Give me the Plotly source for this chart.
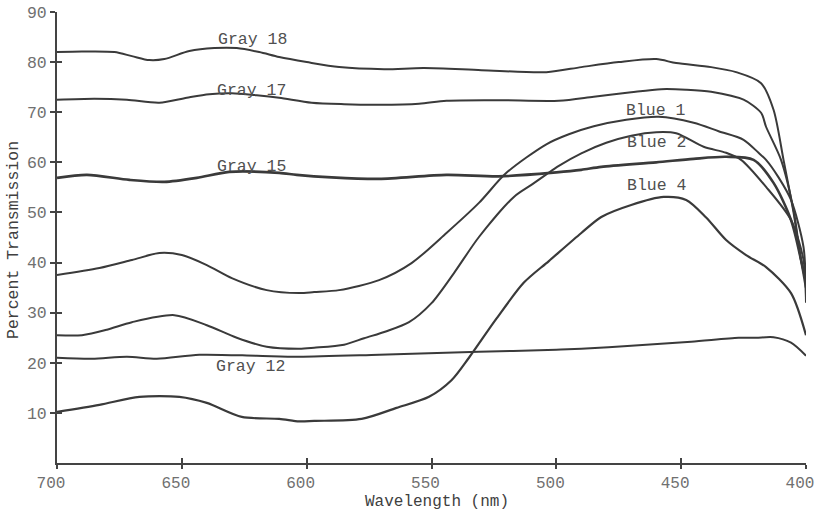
import plotly.graph_objects as go

# ---- data (wavelength nm, percent transmission) ----
gray18_w = [700, 690, 677, 670, 663, 657, 647, 637, 628, 619, 611, 600, 587, 569, 553, 530, 504, 490, 475, 460, 452, 438, 428, 418, 413, 409, 405, 402, 400]
gray18_v = [82.0, 82.1, 82.0, 81.2, 80.4, 80.6, 82.2, 82.8, 82.8, 82.0, 81.0, 80.0, 79.0, 78.6, 78.8, 78.4, 78.0, 79.0, 80.0, 80.6, 79.8, 79.0, 78.0, 75.8, 70.5, 60.5, 50.0, 40.5, 37.0]

gray17_w = [700, 685, 672, 659, 648, 639, 630, 620, 611, 598, 585, 571, 555, 544, 523, 499, 485, 470, 458, 448, 438, 425, 418, 416, 410, 405, 402, 400]
gray17_v = [72.5, 72.7, 72.5, 71.9, 72.9, 73.6, 73.8, 73.4, 72.9, 71.9, 71.6, 71.5, 71.7, 72.3, 72.4, 72.3, 73.1, 74.0, 74.6, 74.5, 74.1, 72.5, 69.9, 67.1, 60.5, 50.5, 40.5, 36.0]

gray15_w = [700, 688, 671, 657, 644, 631, 611, 604, 590, 571, 544, 523, 500, 490, 482, 460, 445, 432, 421, 413, 406, 402, 400]
gray15_v = [56.9, 57.5, 56.5, 56.1, 56.9, 58.1, 57.9, 57.5, 57.0, 56.7, 57.5, 57.2, 58.0, 58.5, 59.1, 60.0, 60.7, 61.1, 60.5, 55.9, 48.5, 40.5, 35.0]

gray12_w = [700, 686, 672, 660, 643, 620, 603, 571, 531, 500, 490, 470, 446, 427, 420, 413, 406, 400]
gray12_v = [21.0, 20.8, 21.2, 20.8, 21.6, 21.4, 21.2, 21.6, 22.2, 22.6, 22.8, 23.4, 24.2, 25.0, 25.0, 25.1, 24.0, 21.4]

blue1_w = [700, 683, 670, 659, 650, 640, 630, 616, 603, 597, 587, 571, 558, 544, 531, 520, 504, 495, 485, 472, 459, 445, 435, 425, 419, 416, 411, 406, 401, 400]
blue1_v = [37.5, 38.9, 40.5, 41.9, 41.5, 39.5, 36.9, 34.5, 33.9, 34.1, 34.5, 36.5, 39.9, 45.9, 51.9, 57.9, 63.6, 65.6, 67.2, 68.5, 69.1, 67.9, 66.2, 64.5, 61.9, 60.5, 57.0, 52.5, 43.1, 33.0]

blue2_w = [700, 690, 680, 670, 653, 640, 628, 616, 603, 597, 585, 577, 568, 559, 550, 541, 531, 517, 510, 504, 499, 490, 480, 470, 460, 452, 441, 432, 426, 416, 406, 401, 400]
blue2_v = [25.5, 25.5, 26.6, 28.1, 29.5, 27.5, 25.0, 23.2, 22.8, 23.0, 23.6, 24.9, 26.3, 28.1, 31.9, 37.9, 45.1, 53.1, 55.5, 57.6, 59.3, 61.8, 63.9, 65.3, 66.0, 65.8, 63.1, 61.9, 60.5, 55.1, 48.5, 40.5, 32.0]

blue4_w = [700, 683, 667, 651, 640, 626, 611, 603, 597, 578, 564, 551, 542, 535, 524, 513, 503, 490, 482, 470, 457, 448, 440, 432, 424, 416, 406, 400]
blue4_v = [10.2, 11.6, 13.2, 13.2, 12.0, 9.2, 8.8, 8.3, 8.4, 8.8, 11.0, 13.2, 16.5, 21.0, 28.8, 36.0, 40.3, 45.9, 49.1, 51.5, 53.1, 52.5, 49.0, 44.5, 41.5, 39.1, 33.9, 25.5]

series = [
    ("Gray 18", gray18_w, gray18_v, 2.0),
    ("Gray 17", gray17_w, gray17_v, 2.0),
    ("Gray 15", gray15_w, gray15_v, 2.6),
    ("Gray 12", gray12_w, gray12_v, 2.0),
    ("Blue 1", blue1_w, blue1_v, 2.0),
    ("Blue 2", blue2_w, blue2_v, 2.0),
    ("Blue 4", blue4_w, blue4_v, 2.2),
]

# label positions (wavelength, percent)
label_text = ["Gray 18", "Gray 17", "Gray 15", "Gray 12", "Blue 1", "Blue 2", "Blue 4"]
label_w = [621.5, 622, 622, 622.3, 460, 459.7, 459.7]
label_v = [84.6, 74.3, 59.1, 19.2, 70.3, 63.9, 55.3]

x_ticks = [700, 650, 600, 550, 500, 450, 400]
y_ticks = [10, 20, 30, 40, 50, 60, 70, 80, 90]

LINE = "#3a3a3a"
MONO = "Liberation Mono, Courier New, monospace"

fig = go.Figure()
for name, w, v, lw in series:
    fig.add_trace(go.Scatter(x=w, y=v, mode="lines", name=name,
                             line=dict(color=LINE, width=lw, shape="spline", smoothing=0.8),
                             showlegend=False, hoverinfo="skip"))

# empty trace on overlay axes (inside half of crossing tick marks)
fig.add_trace(go.Scatter(x=[], y=[], xaxis="x2", yaxis="y2", showlegend=False))

for t, w, v in zip(label_text, label_w, label_v):
    fig.add_annotation(x=w, y=v, text=t, showarrow=False,
                       font=dict(family=MONO, size=16.5, color="#505050"))

fig.add_annotation(xref="paper", yref="paper", x=(437 - 57) / 749, y=(463 - 502) / 451,
                   xanchor="center", yanchor="middle",
                   text="Wavelength (nm)", showarrow=False,
                   font=dict(family=MONO, size=16, color="#404040"))
fig.add_annotation(xref="paper", yref="paper", x=(13 - 57) / 749, y=(463 - 240) / 451,
                   xanchor="center", yanchor="middle",
                   text="Percent Transmission", showarrow=False, textangle=-90,
                   font=dict(family=MONO, size=16.5, color="#404040"))

axis_common = dict(showgrid=False, zeroline=False, automargin=False)
fig.update_layout(
    width=818, height=515,
    margin=dict(l=57, r=12, t=12, b=52, autoexpand=False),
    paper_bgcolor="white", plot_bgcolor="white",
    xaxis=dict(range=[700, 400], tickvals=x_ticks, ticks="outside", ticklen=4, tickwidth=2,
               tickcolor="#444", showline=True, linecolor="#444", linewidth=2,
               ticklabeloverflow="allow", ticklabelshift=6,
               tickfont=dict(family=MONO, size=16, color="#707070"), **axis_common),
    yaxis=dict(range=[0, 90], tickvals=y_ticks, ticks="outside", ticklen=5, tickwidth=2,
               tickcolor="#444", showline=True, linecolor="#444", linewidth=2,
               ticklabeloverflow="allow",
               tickfont=dict(family=MONO, size=16.5, color="#707070"), **axis_common),
    xaxis2=dict(range=[700, 400], tickvals=x_ticks, overlaying="x", anchor="y2", side="bottom",
                ticks="inside", ticklen=5, tickwidth=2, tickcolor="#444", showticklabels=False,
                showline=False, **axis_common),
    yaxis2=dict(range=[0, 90], tickvals=y_ticks, overlaying="y", anchor="x2", side="left",
                ticks="inside", ticklen=5, tickwidth=2, tickcolor="#444", showticklabels=False,
                showline=False, **axis_common),
)

fig.write_html("out.html")
